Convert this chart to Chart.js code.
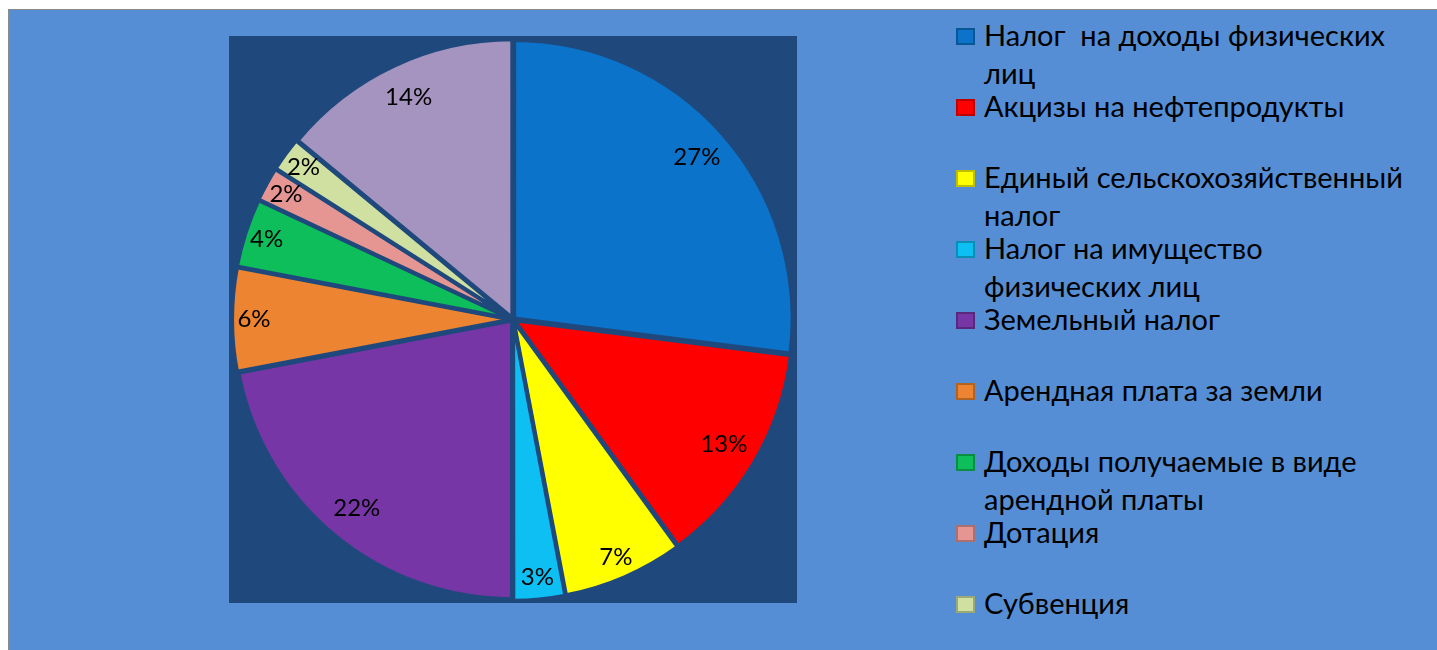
<!DOCTYPE html>
<html lang="ru">
<head>
<meta charset="utf-8">
<script src="https://cdn.jsdelivr.net/npm/chart.js@4.4.0/dist/chart.umd.min.js"></script>
<style>
    body { margin: 0; background: #fff; font-family: Lato, "Open Sans", sans-serif; }
    .ramka { position: absolute; left: 8px; top: 9px; width: 1429px; height: 641px;
             background: #558ED5; border-left: 2px solid #8a8a8a; border-top: 1px solid #8a8a8a; box-sizing: border-box; }
    .area { position: absolute; left: 229px; top: 36px; width: 568px; height: 567px; background: #1F497D; }
    .legenda { position: absolute; left: 956px; top: 16px; width: 450px; }
    .voce { position: relative; height: 71px; padding-left: 28px; font-size: 29px; line-height: 38px;
            white-space: pre-wrap; color: #000; }
    .voce .q { position: absolute; left: 0; top: 12px; width: 19px; height: 17px; box-sizing: border-box;
               border: 2px solid rgba(0,0,0,0.25); }
</style>
</head>
<body>
<div class="ramka"></div>
<div class="area"><canvas id="torta"></canvas></div>
<div class="legenda" id="legenda"></div>
<script>
const voci = [
    'Налог  на доходы физических лиц',
    'Акцизы на нефтепродукты',
    'Единый сельскохозяйственный налог',
    'Налог на имущество физических лиц',
    'Земельный налог',
    'Арендная плата за земли',
    'Доходы получаемые в виде арендной платы',
    'Дотация',
    'Субвенция',
    'Прочие'
];
const quote = [27, 13, 7, 3, 22, 6, 4, 2, 2, 14];
const colori = ['#0B73C9', '#FF0000', '#FFFF00', '#0DBFF2', '#7636A6', '#EC8431', '#0DBE5A', '#E59592', '#CFE0A0', '#A594BF'];

// legenda html (solo le prime 9 voci, come nell'originale)
const leg = document.getElementById('legenda');
voci.slice(0, 9).forEach((v, i) => {
    const d = document.createElement('div');
    d.className = 'voce';
    d.innerHTML = '<span class="q" style="background:' + colori[i] + '"></span>' + v;
    leg.appendChild(d);
});

// etichette percentuali dentro le fette
const etichette = {
    id: 'etichette',
    afterDatasetsDraw(chart) {
        const ctx = chart.ctx;
        const meta = chart.getDatasetMeta(0);
        const tot = quote.reduce((a, b) => a + b, 0);
        ctx.save();
        ctx.font = '24px Lato, "Open Sans", sans-serif';
        ctx.fillStyle = '#000';
        ctx.textAlign = 'center';
        ctx.textBaseline = 'middle';
        meta.data.forEach((arc, i) => {
            const p = arc.getProps(['x', 'y', 'startAngle', 'endAngle', 'outerRadius']);
            const a = (p.startAngle + p.endAngle) / 2;
            // le fette piccole hanno l'etichetta più verso il bordo
            const r = p.outerRadius * (quote[i] >= 10 ? 0.88 : 0.93);
            const testo = Math.round(quote[i] / tot * 100) + '%';
            ctx.fillText(testo, p.x + Math.cos(a) * r, p.y + Math.sin(a) * r);
        });
        ctx.restore();
    }
};

new Chart(document.getElementById('torta'), {
    type: 'pie',
    data: {
        labels: voci,
        datasets: [{
            data: quote,
            backgroundColor: colori,
            borderColor: '#1F497D',
            borderWidth: 4,
            offset: 6
        }]
    },
    options: {
        responsive: true,
        maintainAspectRatio: false,
        animation: false,
        layout: { padding: 0 },
        plugins: {
            legend: { display: false },
            tooltip: { enabled: false }
        }
    },
    plugins: [etichette]
});
</script>
</body>
</html>
